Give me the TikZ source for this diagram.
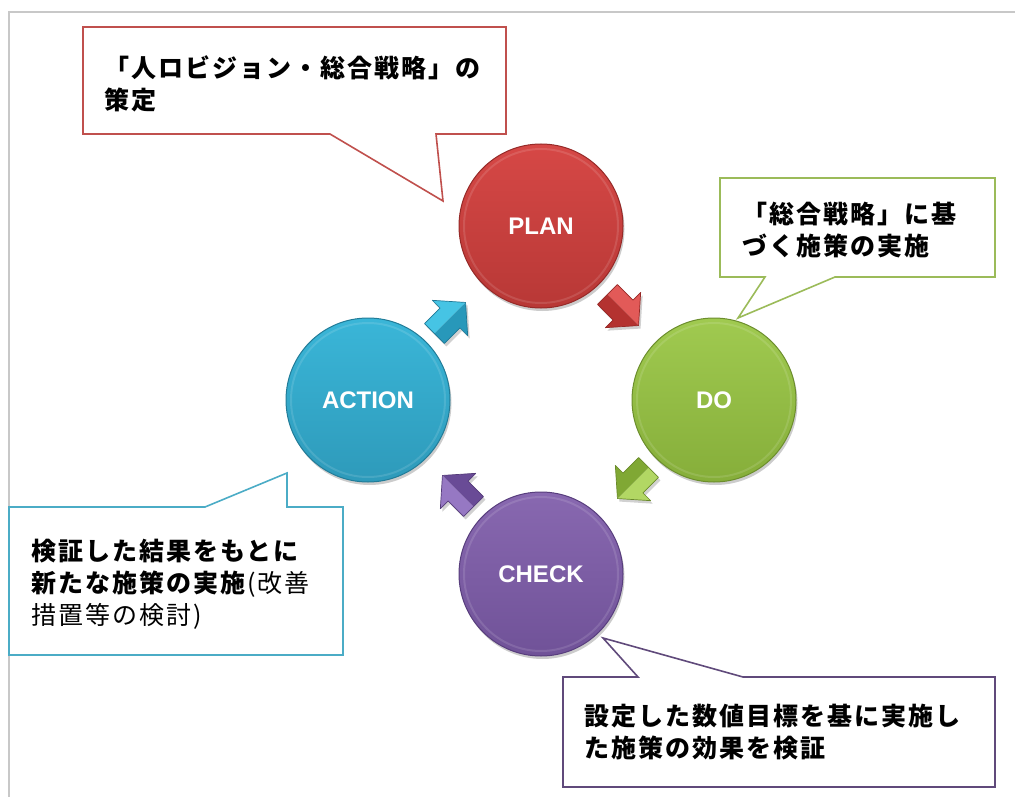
\documentclass[tikz,border=0pt]{standalone}
\usepackage{fontspec}
\newfontfamily\jp[LetterSpace=8]{Noto Sans CJK JP}
\newfontfamily\lab{Liberation Sans}
\usetikzlibrary{shadows}
\definecolor{frameg}{HTML}{C8C8C8}
\definecolor{cRed}{HTML}{C0504D}
\definecolor{cGreen}{HTML}{9BBB59}
\definecolor{cCyan}{HTML}{4BACC6}
\definecolor{cPurple}{HTML}{604A7B}
% ball colours
\definecolor{rT}{RGB}{214,72,70}\definecolor{rB}{RGB}{184,56,54}\definecolor{rD}{RGB}{150,42,40}
\definecolor{gT}{RGB}{160,202,80}\definecolor{gB}{RGB}{134,174,58}\definecolor{gD}{RGB}{108,142,45}
\definecolor{pT}{RGB}{136,104,176}\definecolor{pB}{RGB}{112,82,152}\definecolor{pD}{RGB}{88,62,125}
\definecolor{aT}{RGB}{58,182,216}\definecolor{aB}{RGB}{46,154,186}\definecolor{aD}{RGB}{34,124,152}
% arrow colours
\definecolor{aL1}{RGB}{70,196,228}\definecolor{aL2}{RGB}{40,152,186}\definecolor{aL3}{RGB}{30,120,150}
\definecolor{rL1}{RGB}{226,90,88}\definecolor{rL2}{RGB}{180,50,48}\definecolor{rL3}{RGB}{150,40,38}
\definecolor{gL1}{RGB}{178,215,100}\definecolor{gL2}{RGB}{128,168,52}\definecolor{gL3}{RGB}{105,138,42}
\definecolor{pL1}{RGB}{150,120,195}\definecolor{pL2}{RGB}{105,75,150}\definecolor{pL3}{RGB}{85,60,122}
\tikzset{
  ball/.style={circle, minimum size=164pt, inner sep=0pt, text=white,
    font=\lab\bfseries\fontsize{24}{28}\selectfont, line width=1pt,
    drop shadow={shadow xshift=1.5pt, shadow yshift=-3pt, opacity=.25, fill=black!80}},
  callout/.style={fill=white, line width=1.6pt, line join=miter},
  jtext/.style={anchor=west, align=left, inner sep=0pt, font=\jp\fontsize{25}{32}\selectfont},
  pics/barrow/.style n args={3}{code={
    \fill[#1] (-22,0) -- (-22,-14) -- (0,-14) -- (0,-25) -- (22,0) -- cycle;
    \fill[#2] (-22,0) -- (-22,14) -- (0,14) -- (0,25) -- (22,0) -- cycle;
    \draw[#3, line width=.7pt, line join=round] (-22,-14) -- (0,-14) -- (0,-25) -- (22,0) -- (0,25) -- (0,14) -- (-22,14) -- cycle;
  }},
  pics/barrowsh/.style={code={
    \fill[black, opacity=.18] (-22,-14) -- (0,-14) -- (0,-25) -- (22,0) -- (0,25) -- (0,14) -- (-22,14) -- cycle;
  }}
}
\begin{document}
\begin{tikzpicture}[x=1pt, y=-1pt]
\useasboundingbox (0,0) rectangle (1015,797);
% frame
\draw[frameg, line width=1.2pt] (1015,12) -- (9,12) -- (9,797);

% circles
\node[ball, top color=rT, bottom color=rB, draw=rD] (plan) at (541,226) {PLAN};
\node[ball, top color=gT, bottom color=gB, draw=gD] (do) at (714,400) {DO};
\node[ball, top color=pT, bottom color=pB, draw=pD] (check) at (541,574) {CHECK};
\node[ball, top color=aT, bottom color=aB, draw=aD] (action) at (368,400) {ACTION};

% inner bevel rings
\foreach \n in {plan,do,check,action}{
  \draw[white, opacity=.12, line width=2pt] (\n.center) circle (77pt);
}

% block arrows
\pic[rotate=45] at (452,321) {barrowsh};
\pic[rotate=45] at (450,318) {barrow={aL1}{aL2}{aL3}};
\pic[rotate=-45] at (625,313) {barrowsh};
\pic[rotate=-45] at (623,310) {barrow={rL1}{rL2}{rL3}};
\pic[rotate=225] at (635,486) {barrowsh};
\pic[rotate=225] at (633,483) {barrow={gL1}{gL2}{gL3}};
\pic[rotate=135] at (460,494) {barrowsh};
\pic[rotate=135] at (458,491) {barrow={pL1}{pL2}{pL3}};

% callouts
\draw[callout, draw=cRed] (83,27) -- (506,27) -- (506,134) -- (436,134) -- (443,201) -- (330,134) -- (83,134) -- cycle;
\draw[callout, draw=cGreen] (720,178) -- (995,178) -- (995,277) -- (835,277) -- (738,318) -- (765,277) -- (720,277) -- cycle;
\draw[callout, draw=cCyan] (9,507) -- (205,507) -- (287,473) -- (287,507) -- (343,507) -- (343,655) -- (9,655) -- cycle;
\draw[callout, draw=cPurple] (563,677) -- (638,677) -- (603,638) -- (743,677) -- (995,677) -- (995,787) -- (563,787) -- cycle;

% texts
\node[jtext] (tplan) at (104,84) {\bfseries 「人ロビジョン・総合戦略」の\\\bfseries 策定};
\node[jtext] (tdo) at (742,230) {\bfseries 「総合戦略」に基\\\bfseries づく施策の実施};
\node[jtext] (taction) at (31,584) {\textbf{検証した結果をもとに}\\\textbf{新たな施策の実施}(改善\\措置等の検討)};
\node[jtext] (tcheck) at (584,732) {\bfseries 設定した数値目標を基に実施し\\\bfseries た施策の効果を検証};
\end{tikzpicture}
\end{document}
